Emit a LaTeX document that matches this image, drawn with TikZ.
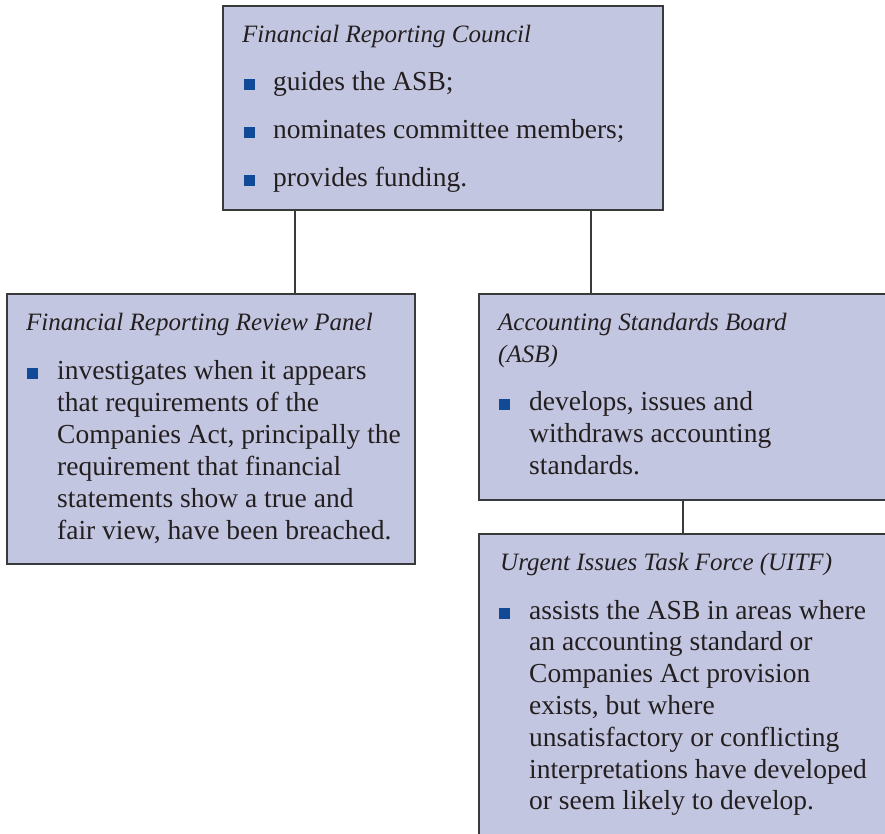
\documentclass[tikz,border=0pt]{standalone}
\usepackage{fontspec}
\setmainfont{Liberation Serif}

\definecolor{boxfill}{RGB}{195,198,225}
\definecolor{boxline}{RGB}{58,58,60}
\definecolor{bulletblue}{RGB}{16,74,150}
\definecolor{ink}{RGB}{35,31,32}

% a block of ragged-right lines whose reference point is the first baseline
\newcommand{\textlines}[1]{\parbox[t]{420pt}{\raggedright #1}}

\tikzset{
  panel/.style={draw=boxline, line width=1.5pt, fill=boxfill, inner sep=0pt, outer sep=0pt, anchor=north west},
  link/.style={draw=boxline, line width=1.5pt},
  bul/.style={rectangle, fill=bulletblue, inner sep=0pt, minimum size=11pt},
  head/.style={anchor=base west, inner sep=0pt, text=ink, font=\fontsize{25}{32}\selectfont\itshape},
  body/.style={anchor=base west, inner sep=0pt, text=ink, font=\fontsize{27.5}{32}\selectfont},
}

\begin{document}
\begin{tikzpicture}[x=1pt, y=-1pt]
  \useasboundingbox (0,0) rectangle (885,833);
  \fill[white] (0,0) rectangle (885,833);
  \clip (0,0) rectangle (885,833);

  % boxes
  \node[panel, minimum width=440pt, minimum height=204pt] (frc)  at (223,6)   {};
  \node[panel, minimum width=408pt, minimum height=270pt] (frrp) at (7,294)   {};
  \node[panel, minimum width=421pt, minimum height=206pt] (asb)  at (479,294) {};
  \node[panel, minimum width=421pt, minimum height=320pt] (uitf) at (479,534) {};

  % connectors
  \draw[link] ([xshift=72pt]frc.south west)  -- ([xshift=72pt]frc.south west |- frrp.north);
  \draw[link] ([xshift=-72pt]frc.south east) -- ([xshift=-72pt]frc.south east |- asb.north);
  \draw[link] ([xshift=204pt]asb.south west) -- ([xshift=204pt]asb.south west |- uitf.north);

  % Financial Reporting Council
  \node[head] (frcH) at (242,42) {Financial Reporting Council};
  \node[bul] (frcB1) at (249.5,84) {};
  \node[bul] (frcB2) at (249.5,132) {};
  \node[bul] (frcB3) at (249.5,180) {};
  \node[body, font=\fontsize{27.5}{48}\selectfont] (frcT) at (273,90)
    {\textlines{guides the ASB;\\nominates committee members;\\provides funding.}};

  % Financial Reporting Review Panel
  \node[head] (frrpH) at (26,330) {Financial Reporting Review Panel};
  \node[bul] (frrpB) at (32,373) {};
  \node[body] (frrpT) at (57,379)
    {\textlines{investigates when it appears\\that requirements of the\\Companies Act, principally the\\requirement that financial\\statements show a true and\\fair view, have been breached.}};

  % Accounting Standards Board
  \node[head] (asbH) at (498,330) {\parbox[t]{380pt}{Accounting Standards Board\\(ASB)}};
  \node[bul] (asbB) at (504,404) {};
  \node[body] (asbT) at (529,410)
    {\textlines{develops, issues and\\withdraws accounting\\standards.}};

  % Urgent Issues Task Force
  \node[head] (uitfH) at (500,570) {Urgent Issues Task Force (UITF)};
  \node[bul] (uitfB) at (504,613) {};
  \node[body, font=\fontsize{27.5}{31.8}\selectfont] (uitfT) at (529,619)
    {\textlines{assists the ASB in areas where\\an accounting standard or\\Companies Act provision\\exists, but where\\unsatisfactory or conflicting\\interpretations have developed\\or seem likely to develop.}};
\end{tikzpicture}
\end{document}
